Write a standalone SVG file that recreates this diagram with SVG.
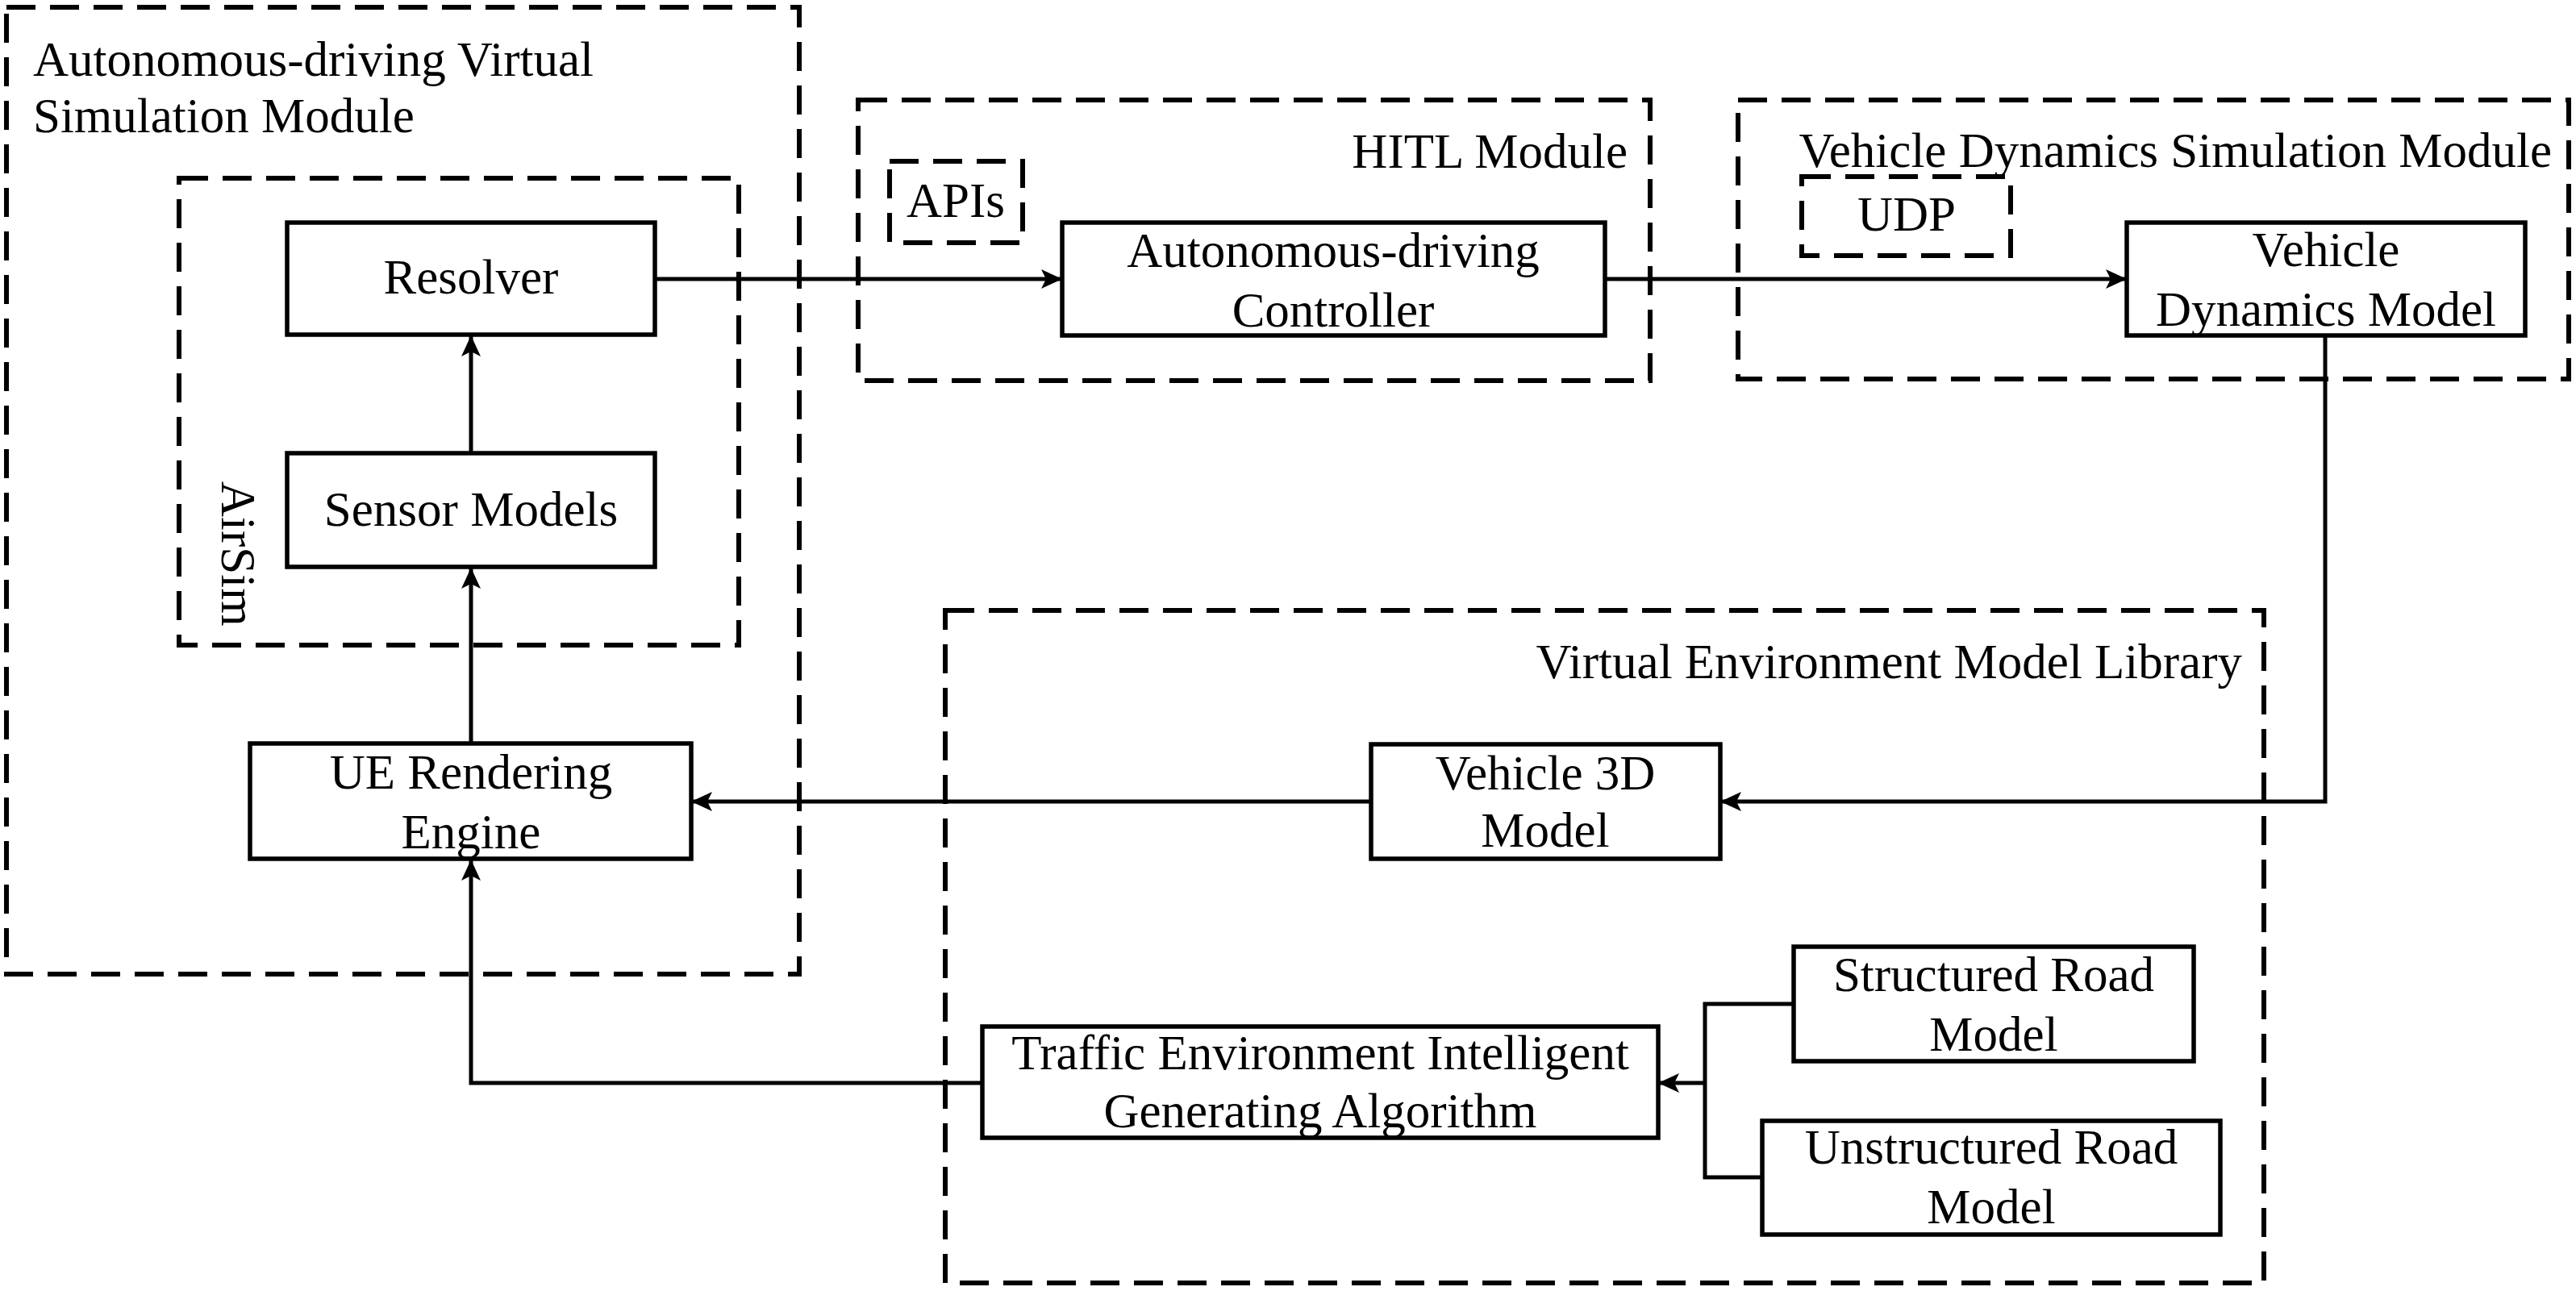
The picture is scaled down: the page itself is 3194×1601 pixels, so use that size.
<svg xmlns="http://www.w3.org/2000/svg" width="3194" height="1601" viewBox="0 0 3194 1601">
<style>
.bg{fill:#fff}
.grp{fill:none;stroke:#000;stroke-width:6;stroke-dasharray:36 18}
.box{fill:#fff;stroke:#000;stroke-width:5.5}
.ln{fill:none;stroke:#000;stroke-width:5}
.arr{fill:none;stroke:#000;stroke-width:5;marker-end:url(#ah)}
text{font-family:"Liberation Serif","Times New Roman",serif;font-size:61px;fill:#000}
.c{text-anchor:middle}
.e{text-anchor:end}
</style>
<defs>
<marker id="ah" markerUnits="userSpaceOnUse" markerWidth="28" markerHeight="26" refX="26" refY="12" orient="auto">
<path d="M0,0 L26,12 L0,24 L6,12 Z" fill="#000"/>
</marker>
</defs>
<rect class="bg" x="0" y="0" width="3194" height="1601"/>

<g id="module-autonomous-virtual">
<rect class="grp" x="8" y="9" width="983" height="1199"/>
<text x="41" y="94">Autonomous-driving Virtual</text>
<text x="41" y="164">Simulation Module</text>
</g>
<g id="airsim">
<rect class="grp" x="222" y="221" width="694" height="579"/>
<text transform="translate(275,597) rotate(90)">AirSim</text>
</g>
<g id="module-hitl">
<rect class="grp" x="1064" y="124" width="982" height="348"/>
<text class="e" x="2018" y="208">HITL Module</text>
</g>
<g id="apis">
<rect class="grp" x="1103" y="200" width="165" height="101"/>
<text class="c" x="1185" y="269">APIs</text>
</g>
<g id="module-vehicle-dynamics">
<rect class="grp" x="2155" y="124" width="1030" height="346"/>
<text class="e" x="3164" y="207">Vehicle Dynamics Simulation Module</text>
</g>
<g id="udp">
<rect class="grp" x="2234" y="219" width="259" height="98"/>
<text class="c" x="2364" y="286">UDP</text>
</g>
<g id="module-virtual-env">
<rect class="grp" x="1172" y="757" width="1635" height="834"/>
<text class="e" x="2780" y="841">Virtual Environment Model Library</text>
</g>

<g id="connectors">
<path class="arr" d="M584,562 L584,416"/>
<path class="arr" d="M584,922 L584,704"/>
<path class="arr" d="M812,346 L1317,346"/>
<path class="arr" d="M1990,346 L2637,346"/>
<path class="arr" d="M2883,416 L2883,994 L2133,994"/>
<path class="arr" d="M1700,994 L857,994"/>
<path class="arr" d="M1218,1343 L584,1343 L584,1066"/>
<path class="ln" d="M2224,1245 L2114,1245 L2114,1460 L2185,1460"/>
<path class="arr" d="M2114,1343 L2056,1343"/>
</g>

<g id="resolver">
<rect class="box" x="356" y="276" width="456" height="139"/>
<text class="c" x="584" y="364">Resolver</text>
</g>
<g id="sensor-models">
<rect class="box" x="356" y="562" width="456" height="141"/>
<text class="c" x="584" y="652">Sensor Models</text>
</g>
<g id="ue-rendering-engine">
<rect class="box" x="310" y="922" width="547" height="143"/>
<text class="c" x="584" y="978">UE Rendering</text>
<text class="c" x="584" y="1052">Engine</text>
</g>
<g id="autonomous-controller">
<rect class="box" x="1317" y="276" width="673" height="140"/>
<text class="c" x="1653" y="331">Autonomous-driving</text>
<text class="c" x="1653" y="405">Controller</text>
</g>
<g id="vehicle-dynamics-model">
<rect class="box" x="2637" y="276" width="494" height="140"/>
<text class="c" x="2884" y="330">Vehicle</text>
<text class="c" x="2884" y="404">Dynamics Model</text>
</g>
<g id="vehicle-3d-model">
<rect class="box" x="1700" y="923" width="433" height="142"/>
<text class="c" x="1916" y="979">Vehicle 3D</text>
<text class="c" x="1916" y="1050">Model</text>
</g>
<g id="traffic-algorithm">
<rect class="box" x="1218" y="1273" width="838" height="138"/>
<text class="c" x="1637" y="1326">Traffic Environment Intelligent</text>
<text class="c" x="1637" y="1398">Generating Algorithm</text>
</g>
<g id="structured-road">
<rect class="box" x="2224" y="1174" width="496" height="142"/>
<text class="c" x="2472" y="1229">Structured Road</text>
<text class="c" x="2472" y="1303">Model</text>
</g>
<g id="unstructured-road">
<rect class="box" x="2185" y="1390" width="568" height="141"/>
<text class="c" x="2469" y="1443">Unstructured Road</text>
<text class="c" x="2469" y="1517">Model</text>
</g>
</svg>
